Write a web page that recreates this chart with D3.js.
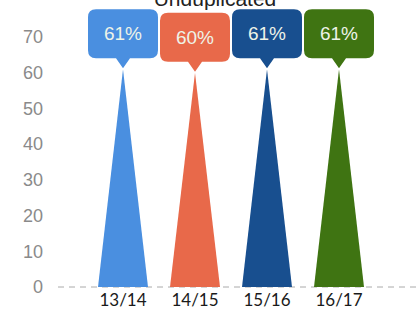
<!DOCTYPE html>
<html><head><meta charset="utf-8">
<script src="https://cdn.jsdelivr.net/npm/d3@7"></script>
<style>body{margin:0;background:#fff}svg{display:block}</style>
</head><body>
<svg id="c" width="420" height="315"></svg>
<script>
const categories = ["13/14", "14/15", "15/16", "16/17"];
const values = [61, 60, 61, 61];
const labels = ["61%", "60%", "61%", "61%"];
const colors = ["#4a8fe0", "#e8694a", "#184f8f", "#3f7412"];
const yTicks = [0, 10, 20, 30, 40, 50, 60, 70];
const title = "Unduplicated";

const svg = d3.select("#c");
const x = d3.scaleBand().domain(categories).range([87, 375]).paddingInner(0);
const y = d3.scaleLinear().domain([0, 70]).range([287, 37]);

svg.append("text").attr("x", 215).attr("y", 6).attr("text-anchor", "middle")
  .attr("font-family", "'Liberation Sans', Arial, sans-serif").attr("font-size", 21).attr("fill", "#222").text(title);

// y axis labels
svg.selectAll(".yt").data(yTicks).enter().append("text")
  .attr("x", 43).attr("y", d => y(d)).attr("dy", "0.35em").attr("text-anchor", "end")
  .attr("font-family", "'Liberation Sans', Arial, sans-serif").attr("font-size", 18).attr("fill", "#8a8a8a").text(d => d);

// baseline
svg.append("line").attr("x1", 58).attr("x2", 420).attr("y1", y(0)).attr("y2", y(0))
  .attr("stroke", "#aaa").attr("stroke-width", 1).attr("stroke-dasharray", "6,5");

const hw = 25;
categories.forEach((c, i) => {
  const cx = x(c) + x.bandwidth() / 2;
  const ty = y(values[i]);
  svg.append("path").attr("d", `M${cx - hw},${y(0)} L${cx},${ty} L${cx + hw},${y(0)} Z`).attr("fill", colors[i]);
  // callout
  const bw = 70, bh = 49, ph = 11;
  const bottom = ty - ph;
  const top = bottom - bh;
  const g = svg.append("g");
  const r = 8, l = cx - bw / 2, rt = cx + bw / 2;
  g.append("path").attr("d",
    `M${l + r},${top} H${rt - r} Q${rt},${top} ${rt},${top + r} V${bottom - r} Q${rt},${bottom} ${rt - r},${bottom}
     H${cx + 7} L${cx},${ty - 1} L${cx - 7},${bottom} H${l + r} Q${l},${bottom} ${l},${bottom - r} V${top + r} Q${l},${top} ${l + r},${top} Z`)
    .attr("fill", colors[i]);
  g.append("text").attr("x", cx).attr("y", (top + bottom) / 2).attr("dy", "0.35em").attr("text-anchor", "middle")
    .attr("font-family", "'Liberation Sans', Arial, sans-serif").attr("font-size", 19).attr("fill", "#eef3e8").text(labels[i]);
  svg.append("text").attr("x", cx).attr("y", y(0) + 19).attr("text-anchor", "middle")
    .attr("font-family", "Lato, sans-serif").attr("font-size", 17).attr("fill", "#1a1a1a").text(c);
});
</script>
</body></html>
